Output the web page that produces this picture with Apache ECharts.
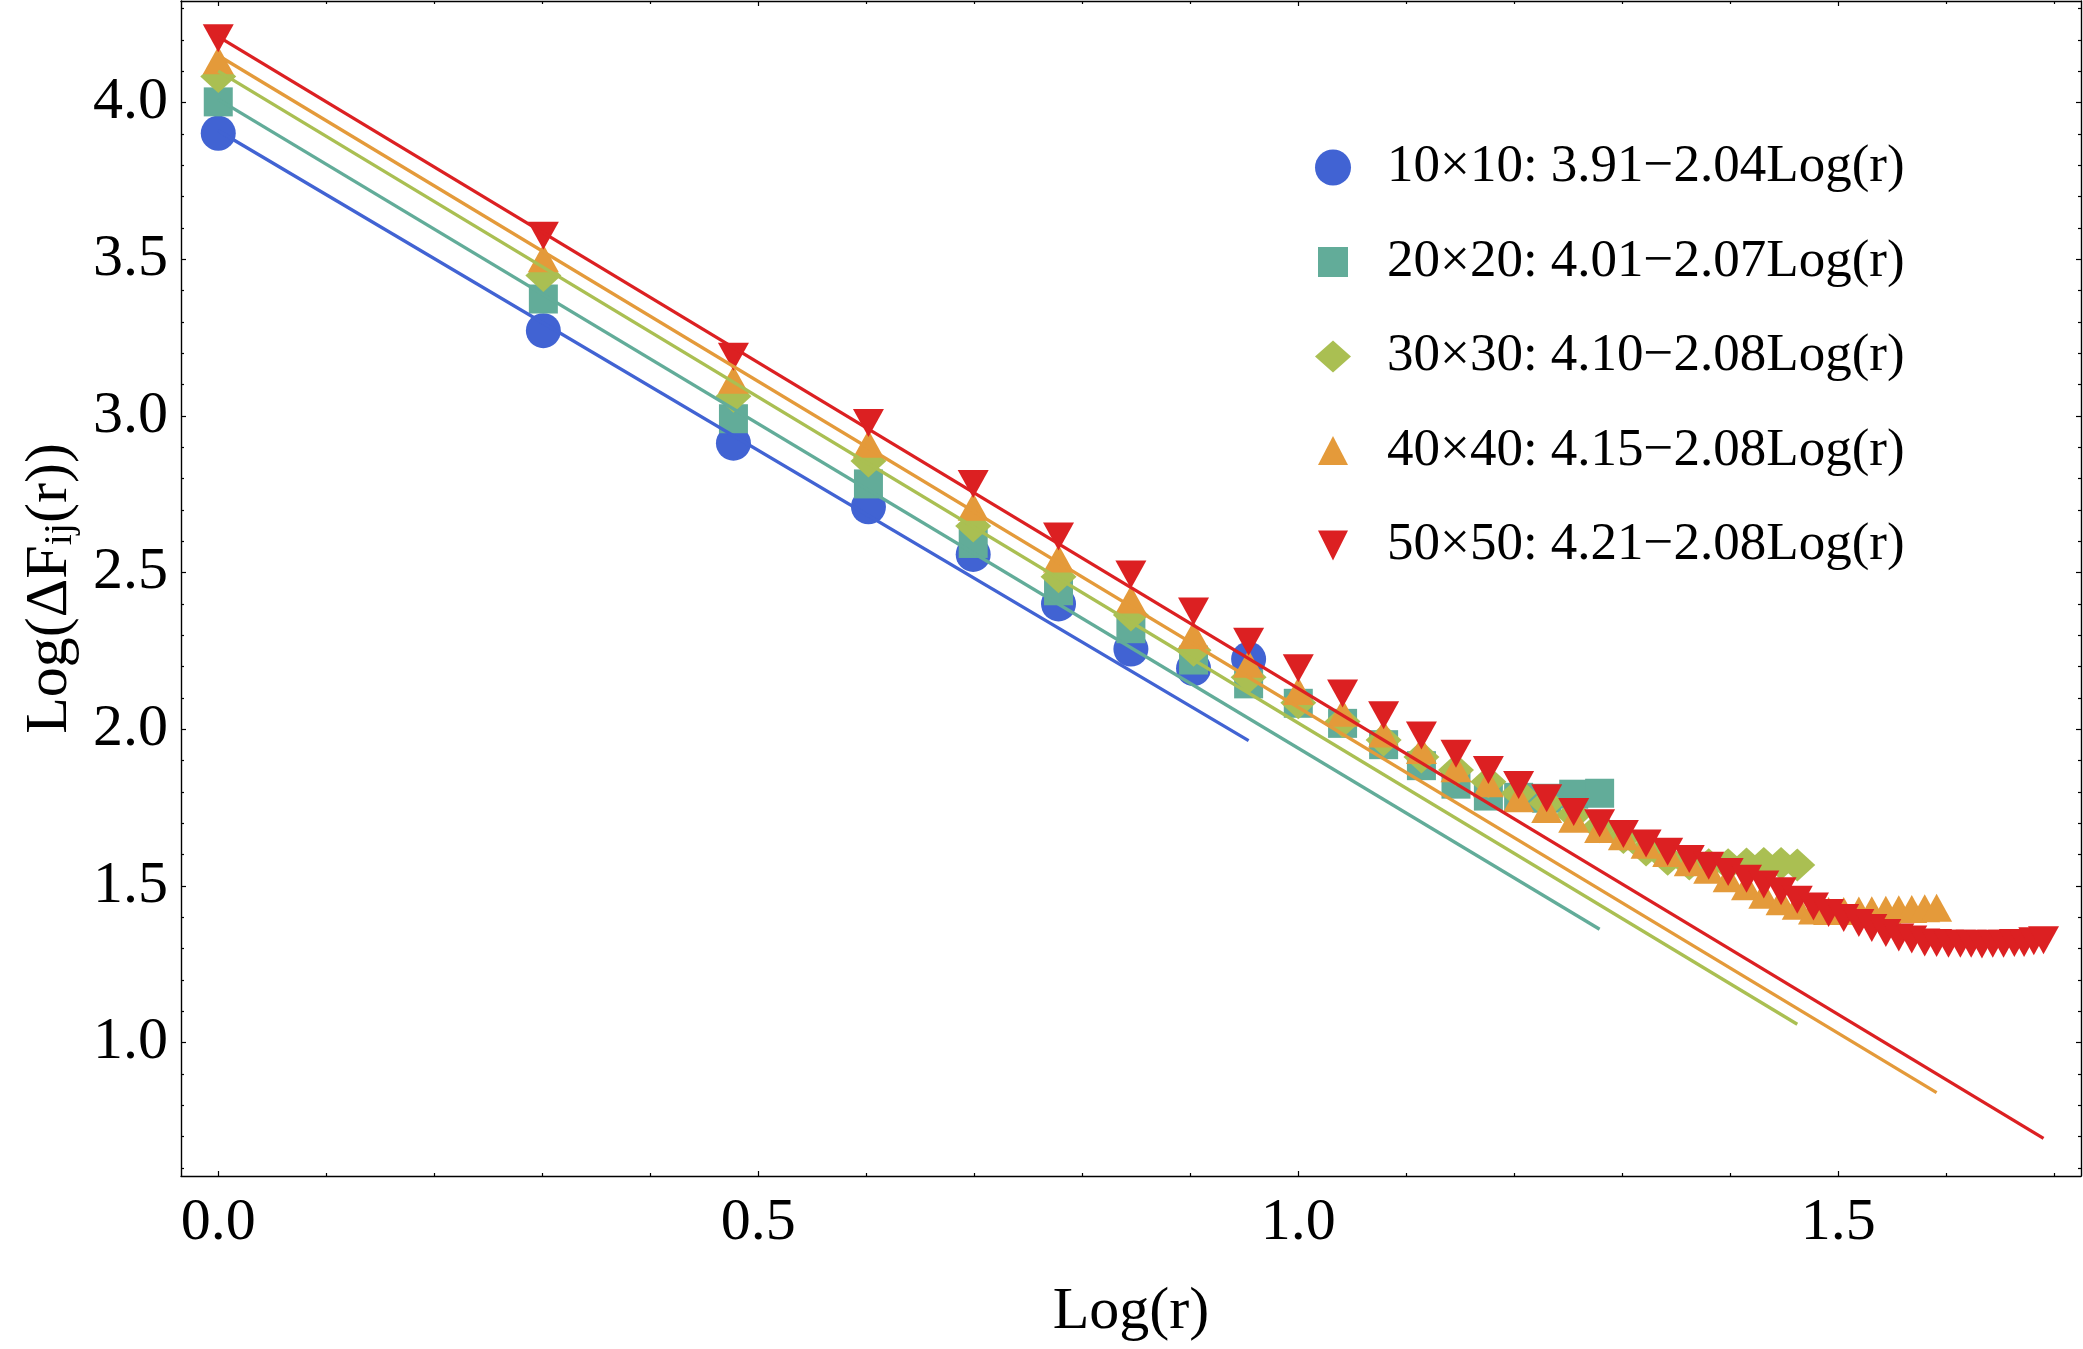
<!DOCTYPE html>
<html>
<head>
<meta charset="utf-8">
<script src="https://cdn.jsdelivr.net/npm/echarts@6/dist/echarts.min.js"></script>
<style>
html,body{margin:0;padding:0;background:#ffffff;}
#chart{width:2083px;height:1349px;}
</style>
</head>
<body>
<div id="chart"></div>
<script>
// x values: Log(r) for r = 1 .. 49
const logR = [0, 0.301, 0.477, 0.602, 0.699, 0.778, 0.845, 0.903, 0.954, 1.000,
  1.041, 1.079, 1.114, 1.146, 1.176, 1.204, 1.230, 1.255, 1.279, 1.301,
  1.322, 1.342, 1.362, 1.380, 1.398, 1.415, 1.431, 1.447, 1.462, 1.477,
  1.491, 1.505, 1.519, 1.531, 1.544, 1.556, 1.568, 1.580, 1.591, 1.602,
  1.613, 1.623, 1.633, 1.643, 1.653, 1.663, 1.672, 1.681, 1.690];

const y10 = [3.902, 3.272, 2.913, 2.710, 2.558, 2.400, 2.256, 2.194, 2.224];
const y20 = [4.002, 3.373, 2.991, 2.783, 2.593, 2.442, 2.321, 2.221, 2.145, 2.083,
  2.019, 1.951, 1.884, 1.825, 1.787, 1.783, 1.780, 1.793, 1.796];
const y30 = [4.083, 3.448, 3.063, 2.856, 2.649, 2.487, 2.365, 2.252, 2.166, 2.085,
  2.025, 1.966, 1.912, 1.870, 1.833, 1.796, 1.764, 1.727, 1.689, 1.655,
  1.615, 1.585, 1.570, 1.568, 1.568, 1.570, 1.572, 1.572, 1.567];
const y40 = [4.135, 3.503, 3.115, 2.911, 2.710, 2.545, 2.414, 2.301, 2.209, 2.122,
  2.053, 1.987, 1.934, 1.876, 1.828, 1.780, 1.746, 1.715, 1.682, 1.659,
  1.632, 1.605, 1.576, 1.552, 1.525, 1.499, 1.472, 1.451, 1.437, 1.422,
  1.420, 1.420, 1.422, 1.423, 1.424, 1.426, 1.427, 1.429, 1.431];
const y50 = [4.205, 3.575, 3.189, 2.977, 2.783, 2.615, 2.494, 2.376, 2.279, 2.195,
  2.114, 2.045, 1.980, 1.922, 1.870, 1.822, 1.780, 1.736, 1.700, 1.666,
  1.636, 1.609, 1.586, 1.565, 1.545, 1.523, 1.505, 1.483, 1.456, 1.435,
  1.414, 1.398, 1.382, 1.366, 1.350, 1.336, 1.329, 1.320, 1.318, 1.316,
  1.316, 1.316, 1.313, 1.316, 1.316, 1.318, 1.318, 1.324, 1.327];

// fitted lines: start (x=0) and end points
const fitStartY = [3.91, 4.01, 4.10, 4.15, 4.21];
const fitEndX = [0.954, 1.279, 1.462, 1.591, 1.690];
const fitEndY = [1.964, 1.362, 1.059, 0.841, 0.695];

const seriesNames = [
  '10×10: 3.91−2.04Log(r)',
  '20×20: 4.01−2.07Log(r)',
  '30×30: 4.10−2.08Log(r)',
  '40×40: 4.15−2.08Log(r)',
  '50×50: 4.21−2.08Log(r)'
];

const xMajorTicks = [0, 0.5, 1.0, 1.5];
const xMinorTicks = [0.1, 0.2, 0.3, 0.4, 0.6, 0.7, 0.8, 0.9, 1.1, 1.2, 1.3, 1.4, 1.6, 1.7];
const yMajorTicks = [1.0, 1.5, 2.0, 2.5, 3.0, 3.5, 4.0];
const yMinorTicks = [0.6, 0.7, 0.8, 0.9, 1.1, 1.2, 1.3, 1.4, 1.6, 1.7, 1.8, 1.9,
  2.1, 2.2, 2.3, 2.4, 2.6, 2.7, 2.8, 2.9, 3.1, 3.2, 3.3, 3.4, 3.6, 3.7, 3.8, 3.9,
  4.1, 4.2, 4.3];

const colors = ['#4163D3', '#62AC99', '#AABF52', '#E49A3A', '#DC2022'];
const yLists = [y10, y20, y30, y40, y50];
const symbols = ['circle', 'rect', 'diamond', 'triangle', 'path://M0,0L10,0L5,9Z'];
const symbolSizes = [35, 29, [36, 33], [31, 28], [31, 28]];
const legendIcons = [
  'circle',
  'path://M0,0M36,36M3,3L33,3L33,33L3,33Z',
  'path://M0,0M36,36M0,18L18,2L36,18L18,34Z',
  'path://M0,0M36,36M3,32L18,3L33,32Z',
  'path://M0,0M36,36M3,3L33,3L18,33Z'
];

const FONT = 'Liberation Serif';
const X_MIN = -0.0345, X_MAX = 1.7247, Y_MIN = 0.5747, Y_MAX = 4.3239;

function xAxisDef(pos, grid, ticks, len, major) {
  return {
    type: 'value', gridIndex: grid, position: pos, min: X_MIN, max: X_MAX,
    axisLine: { show: major, onZero: false, lineStyle: { color: '#000', width: 1.4 } },
    axisTick: { show: true, inside: true, length: len, customValues: ticks,
      lineStyle: { color: '#000', width: 1.2 } },
    axisLabel: { show: false },
    splitLine: { show: false }
  };
}
function yAxisDef(pos, grid, ticks, len, major) {
  return {
    type: 'value', gridIndex: grid, position: pos, min: Y_MIN, max: Y_MAX,
    axisLine: { show: major, onZero: false, lineStyle: { color: '#000', width: 1.4 } },
    axisTick: { show: true, inside: true, length: len, customValues: ticks,
      lineStyle: { color: '#000', width: 1.2 } },
    axisLabel: { show: false },
    splitLine: { show: false }
  };
}

const xMainBottom = xAxisDef('bottom', 0, xMajorTicks, 5, true);
xMainBottom.axisLabel = {
  show: true, customValues: xMajorTicks, margin: 17,
  fontFamily: FONT, fontSize: 60, color: '#000',
  formatter: v => v.toFixed(1)
};
xMainBottom.name = 'Log(r)';
xMainBottom.nameLocation = 'middle';
xMainBottom.nameGap = 106;
xMainBottom.nameTextStyle = { fontFamily: FONT, fontSize: 60, color: '#000' };

const yMainLeft = yAxisDef('left', 0, yMajorTicks, 5, true);
yMainLeft.axisLabel = {
  show: true, customValues: yMajorTicks, margin: 13,
  fontFamily: FONT, fontSize: 60, color: '#000',
  formatter: v => v.toFixed(1)
};
yMainLeft.name = '{a|Log(ΔF}{s|ij}{a|(r))}';
yMainLeft.nameLocation = 'middle';
yMainLeft.nameGap = 101;
yMainLeft.nameTextStyle = {
  fontFamily: FONT, color: '#000',
  rich: {
    a: { fontFamily: FONT, fontSize: 60, lineHeight: 60, color: '#000' },
    s: { fontFamily: FONT, fontSize: 40, lineHeight: 24, verticalAlign: 'bottom', color: '#000' }
  }
};

const series = [];
for (let i = 0; i < 5; i++) {
  const ys = yLists[i];
  series.push({
    name: seriesNames[i],
    type: 'scatter',
    xAxisIndex: 0, yAxisIndex: 0,
    symbol: symbols[i],
    symbolSize: symbolSizes[i],
    symbolKeepAspect: false,
    itemStyle: { color: colors[i], opacity: 1 },
    emphasis: { disabled: true },
    z: 2 + i * 0.01,
    data: ys.map((v, k) => [logR[k], v])
  });
}
for (let i = 0; i < 5; i++) {
  series.push({
    name: 'fit' + i,
    type: 'line',
    xAxisIndex: 0, yAxisIndex: 0,
    showSymbol: false,
    symbol: 'none',
    silent: true,
    lineStyle: { color: colors[i], width: 3.3 },
    z: 5,
    data: [[0, fitStartY[i]], [fitEndX[i], fitEndY[i]]]
  });
}

const chart = echarts.init(document.getElementById('chart'), null, { renderer: 'canvas' });
chart.setOption({
  backgroundColor: '#ffffff',
  animation: false,
  grid: [
    { left: 181, right: 2, top: 1, bottom: 173, containLabel: false },
    { left: 181, right: 2, top: 1, bottom: 173, containLabel: false }
  ],
  xAxis: [
    xMainBottom,
    xAxisDef('top', 0, xMajorTicks, 5, true),
    xAxisDef('bottom', 1, xMinorTicks, 3, false),
    xAxisDef('top', 1, xMinorTicks, 3, false)
  ],
  yAxis: [
    yMainLeft,
    yAxisDef('right', 0, yMajorTicks, 5, true),
    yAxisDef('left', 1, yMinorTicks, 3, false),
    yAxisDef('right', 1, yMinorTicks, 3, false)
  ],
  legend: {
    orient: 'vertical',
    left: 1315,
    top: 141,
    padding: 0,
    itemWidth: 98,
    itemHeight: 36,
    itemGap: 41.5,
    selectedMode: false,
    symbolRotate: 0,
    textStyle: { fontFamily: FONT, fontSize: 53, lineHeight: 53, color: '#000' },
    data: seriesNames.map((n, i) => ({ name: n, icon: legendIcons[i], itemStyle: { color: colors[i] } }))
  },
  series: series
});
</script>
</body>
</html>
